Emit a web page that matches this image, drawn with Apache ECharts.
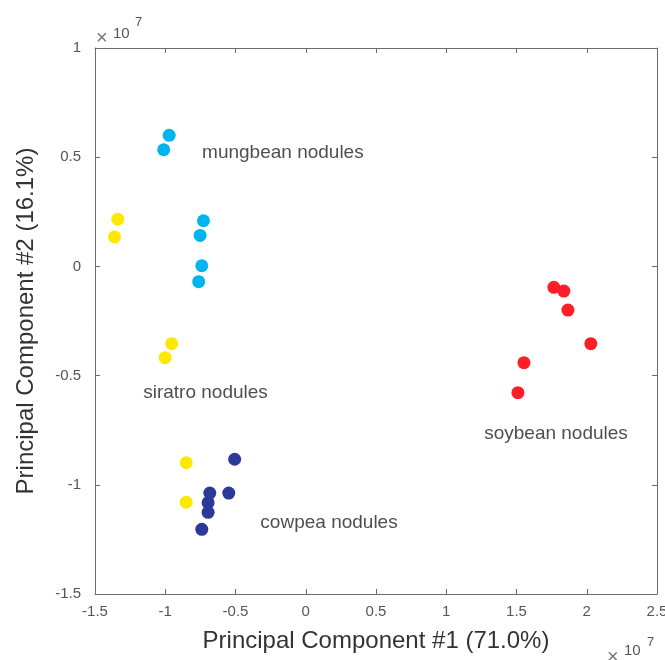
<!DOCTYPE html>
<html>
<head>
<meta charset="utf-8">
<script src="https://cdn.jsdelivr.net/npm/echarts@6/dist/echarts.min.js"></script>
<style>
  html, body { margin: 0; padding: 0; background: #fff; }
  #chart { width: 665px; height: 660px; }
</style>
</head>
<body>
<div id="chart"></div>
<script>
// values in units of 10^7
const mungbeanX = [-0.972, -1.011, -0.728, -0.752, -0.740, -0.762];
const mungbeanY = [0.600, 0.534, 0.209, 0.142, 0.003, -0.070];

const siratroX = [-1.338, -1.361, -0.954, -1.001, -0.851, -0.851];
const siratroY = [0.216, 0.135, -0.354, -0.418, -0.899, -1.080];

const cowpeaX = [-0.506, -0.683, -0.548, -0.695, -0.695, -0.740];
const cowpeaY = [-0.883, -1.038, -1.038, -1.082, -1.126, -1.204];

const soybeanX = [1.766, 1.837, 1.866, 2.029, 1.553, 1.510];
const soybeanY = [-0.096, -0.113, -0.200, -0.354, -0.441, -0.578];

// group labels: [x, y, text]
const groupLabels = [
  [-0.738, 0.519, "mungbean nodules"],
  [-1.157, -0.578, "siratro nodules"],
  [-0.323, -1.176, "cowpea nodules"],
  [1.270, -0.767, "soybean nodules"]
];

const xTicks = { min: -1.5, max: 2.5, step: 0.5 };
const yTicks = { min: -1.5, max: 1, step: 0.5 };

const font = "Arial, 'Liberation Sans', Helvetica, sans-serif";
const axisColor = "#6b6b6b";
const labelColor = "#555";

function zip(xs, ys) {
  return xs.map((x, i) => [x, ys[i]]);
}

function fmt(v) {
  return String(Math.round(v * 10) / 10);
}

const chart = echarts.init(document.getElementById("chart"), null, { renderer: "canvas" });

const baseAxis = {
  type: "value",
  axisLine: { show: true, onZero: false, lineStyle: { color: axisColor, width: 1 } },
  axisTick: { show: true, inside: true, length: 5, lineStyle: { color: axisColor } },
  splitLine: { show: false }
};

function dots(name, xs, ys, color) {
  return {
    name: name,
    type: "scatter",
    symbol: "circle",
    symbolSize: 13,
    itemStyle: { color: color, opacity: 1 },
    data: zip(xs, ys),
    z: 3
  };
}

chart.setOption({
  animation: false,
  textStyle: { fontFamily: font },
  grid: { left: 95, right: 8, top: 48, bottom: 66, outerBoundsMode: "none", containLabel: false },
  xAxis: [
    Object.assign({}, baseAxis, {
      min: xTicks.min, max: xTicks.max, interval: xTicks.step,
      position: "bottom",
      name: "Principal Component #1 (71.0%)",
      nameLocation: "middle",
      nameGap: 35,
      nameTextStyle: { fontSize: 24, color: "#333", fontFamily: font },
      axisLabel: { fontSize: 15, color: labelColor, margin: 10, formatter: fmt, fontFamily: font }
    }),
    Object.assign({}, baseAxis, {
      min: xTicks.min, max: xTicks.max, interval: xTicks.step,
      position: "top",
      axisLabel: { show: false }
    })
  ],
  yAxis: [
    Object.assign({}, baseAxis, {
      min: yTicks.min, max: yTicks.max, interval: yTicks.step,
      position: "left",
      name: "Principal Component #2 (16.1%)",
      nameLocation: "middle",
      nameGap: 57,
      nameTextStyle: { fontSize: 24, color: "#333", fontFamily: font },
      axisLabel: { fontSize: 15, color: labelColor, margin: 14, formatter: fmt, fontFamily: font }
    }),
    Object.assign({}, baseAxis, {
      min: yTicks.min, max: yTicks.max, interval: yTicks.step,
      position: "right",
      axisLabel: { show: false }
    })
  ],
  series: [
    dots("mungbean", mungbeanX, mungbeanY, "#00b4ef"),
    dots("siratro", siratroX, siratroY, "#ffe800"),
    dots("cowpea", cowpeaX, cowpeaY, "#2b3a98"),
    dots("soybean", soybeanX, soybeanY, "#ff1e27"),
    {
      name: "labels",
      type: "scatter",
      symbolSize: 0,
      silent: true,
      data: groupLabels.map(l => ({ name: l[2], value: [l[0], l[1]] })),
      label: {
        show: true,
        position: "right",
        distance: 0,
        formatter: p => p.name,
        fontSize: 19,
        color: "#222",
        fontFamily: font
      }
    }
  ],
  graphic: [
    {
      type: "group", left: 96, top: 16,
      children: [
        { type: "text", x: 0, y: 14, style: { text: "\u00d7", fontSize: 20, fill: "#777", fontFamily: font } },
        { type: "text", x: 17, y: 12, style: { text: "10", fontSize: 15, fill: labelColor, fontFamily: font } },
        { type: "text", x: 39, y: 2, style: { text: "7", fontSize: 13, fill: labelColor, fontFamily: font } }
      ]
    },
    {
      type: "group", left: 607, top: 636,
      children: [
        { type: "text", x: 0, y: 12, style: { text: "\u00d7", fontSize: 20, fill: "#777", fontFamily: font } },
        { type: "text", x: 17, y: 8, style: { text: "10", fontSize: 15, fill: labelColor, fontFamily: font } },
        { type: "text", x: 40, y: 1, style: { text: "7", fontSize: 13, fill: labelColor, fontFamily: font } }
      ]
    }
  ]
});
</script>
</body>
</html>
